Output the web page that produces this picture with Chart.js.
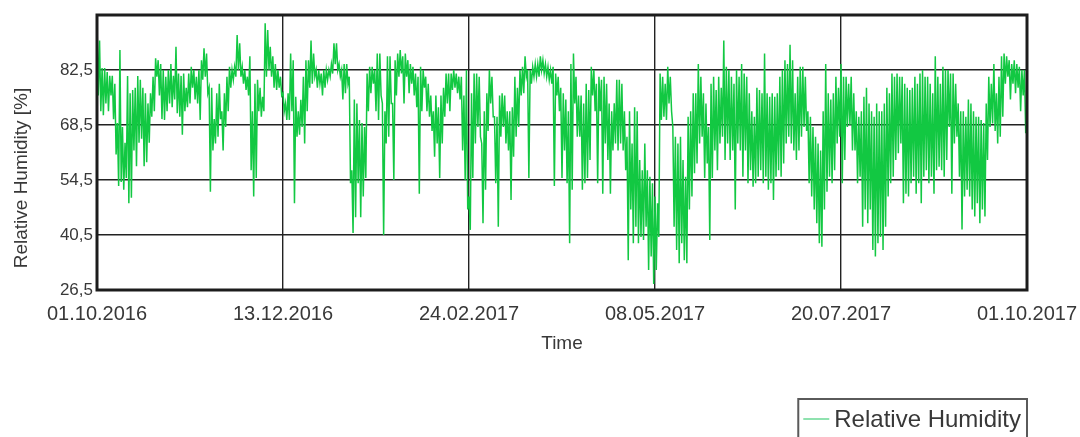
<!DOCTYPE html>
<html>
<head>
<meta charset="utf-8">
<title>Relative Humidity</title>
<script src="https://cdn.jsdelivr.net/npm/chart.js@4.4.1/dist/chart.umd.min.js"></script>
<style>
  html, body { margin: 0; padding: 0; background: #fff; }
  #wrap { position: relative; width: 1080px; height: 437px; overflow: hidden; }
</style>
</head>
<body>
<div id="wrap"><canvas id="humidityChart" width="1080" height="437"></canvas></div>
<script>
// x axis: days since 01.10.2016, labelled every 73 days
const tickDays = [0, 73, 146, 219, 292, 365];
const dateLabels = ['01.10.2016', '13.12.2016', '24.02.2017', '08.05.2017', '20.07.2017', '01.10.2017'];
const yTicks = [26.5, 40.5, 54.5, 68.5, 82.5, 96.5];

// daily maximum / minimum of relative humidity [%] (day 0 = 01.10.2016)
const dailyHigh = [
  95, 90, 83, 83, 82, 81, 81, 79, 69, 87.6,
  68, 64, 81, 76.6, 77.4, 78, 81, 80, 78, 76.6,
  74, 76.6, 80.8, 85.5, 85, 84, 82.5, 80.8, 82.5, 84,
  81, 88.4, 81.6, 81, 81.6, 78, 81.6, 83.3, 82.5, 80.8,
  82.5, 85, 88, 86.7, 78, 78, 70, 76.6, 79, 72,
  76.6, 80.8, 83.3, 82.5, 83.3, 91.4, 89.3, 83.3, 82.5, 80.8,
  86, 72, 79, 80, 78, 75.7, 94.4, 92.7, 88.4, 86,
  84, 82.5, 80.8, 76.6, 74, 76.6, 86.7, 85, 75.7, 72,
  74.9, 80.8, 85, 85, 90, 86.7, 82.5, 82.5, 81.6, 82.5,
  82.5, 82.5, 84, 89.3, 89.3, 84, 82.5, 84, 84, 80.8,
  57, 75, 74, 69.8, 69, 68, 81.6, 83.3, 83.3, 82.5,
  86.7, 86.7, 74, 72, 86, 86, 74, 85, 86.7, 87.6,
  86, 86.7, 85, 84, 83.3, 81.6, 80.8, 83.3, 82.5, 80.8,
  79, 76, 72, 76, 73, 76, 78, 81.6, 81.6, 81.6,
  82.5, 81.6, 80.8, 80.8, 76, 82.5, 50.3, 76.6, 81.6, 81.6,
  80.8, 63.8, 72, 76.6, 82.5, 80.8, 70.6, 70.6, 76, 76.6,
  76, 72, 72, 73, 80.8, 78, 82.5, 83.3, 86, 82.5,
  82.5, 83.3, 84, 84, 86, 85, 84, 83.3, 82.5, 83.3,
  81.6, 80.8, 78, 76.6, 75, 72, 84, 86.7, 80.8, 76,
  76, 74, 79, 77.4, 83.3, 82.5, 79, 80.8, 80, 80.8,
  79, 74, 72, 74, 80, 80, 79, 72, 65.5, 72,
  63.8, 73, 72, 59.6, 57, 63.8, 57, 55.3, 53.7, 50.3,
  48.6, 81.6, 80.8, 79, 83.3, 80.8, 68, 65.5, 63.8, 65.5,
  59.6, 55.3, 70.6, 72, 76.6, 76.6, 84, 80.8, 76.6, 74,
  68, 79, 80.8, 77.4, 80.8, 78, 90, 83.3, 82.5, 80.8,
  79, 82.5, 80.8, 84, 81.6, 80.8, 76.6, 72, 70.6, 78,
  77.4, 76.6, 86.7, 76.6, 75.7, 76.6, 75.7, 76.6, 80.8, 82.5,
  85, 84, 88.9, 85, 76.6, 80.8, 83.3, 83.3, 80.8, 72,
  70.6, 68, 65.5, 63.8, 62, 72, 84, 76.6, 75, 76.6,
  80.8, 78, 84, 80.8, 80.8, 79, 80.8, 76.6, 72, 70.6,
  72, 75.7, 78, 74, 72, 70.6, 74, 72, 72, 74,
  78, 76.6, 81.6, 80.8, 81.6, 80.8, 80.8, 79, 78, 77.4,
  78, 80.8, 79, 81.6, 82.5, 80.8, 80.8, 79, 76.6, 86,
  80.8, 79, 83.3, 82.5, 82.5, 81.6, 81.6, 79, 74, 72,
  72, 70.6, 75, 74, 72, 70.6, 70.6, 69.8, 69, 74,
  80.8, 79, 84, 76.6, 80.8, 86, 86.7, 86, 85, 84,
  85, 84, 83.3, 82.5, 82.5
];
const dailyLow = [
  76, 72, 71, 74, 72, 76, 70, 61, 53, 54,
  52, 55, 48.6, 50, 62, 58, 64, 65, 58, 59,
  64, 70.6, 72, 80.8, 76, 70, 69.8, 72, 74, 73,
  75, 71.5, 70.6, 66, 72, 73, 74, 78, 75, 74,
  69.8, 80, 80.8, 76.6, 51.5, 62, 63.8, 65.5, 70, 62,
  68, 72, 78, 80, 80.8, 82.5, 80.8, 79, 77.4, 76,
  57, 50.3, 55, 72, 70.6, 72, 80.8, 82.5, 80.8, 78,
  77.4, 78, 76, 72, 69.8, 69.8, 72, 48.6, 65.5, 66,
  68, 63.8, 72, 78, 79, 80.8, 78, 79, 76, 78,
  80, 80.8, 81.6, 84, 82.5, 80.8, 75, 76.6, 79, 53.7,
  41, 45, 53.7, 45, 50.3, 55, 72, 76.6, 79, 72,
  69.8, 76, 40.5, 63.8, 65.5, 74, 54.5, 76, 80.8, 81.6,
  74, 80.8, 76.6, 79, 76, 73, 51, 72, 78, 72,
  70.6, 67, 60.4, 63.8, 55, 63.8, 70.6, 74, 72, 77.4,
  78, 76.6, 75, 62, 54.5, 47, 41.8, 55, 63.8, 68,
  65.5, 43.5, 52, 67, 74, 70.6, 53.7, 42.6, 65.5, 68,
  63.8, 62, 49.4, 60.4, 65.5, 68, 76, 76.6, 80.8, 55,
  79, 80.8, 80.8, 80.8, 82.5, 81.6, 80.8, 80, 79, 53,
  76, 72, 55, 62, 53.7, 38.4, 52, 74, 65.5, 65.5,
  52, 53.7, 55, 59.6, 76, 72, 53.7, 72, 51, 63.8,
  59.6, 51, 62, 63.8, 62, 63.8, 62, 57, 34.1, 47,
  38.4, 42.6, 38.4, 40, 39.2, 42.6, 31.6, 35, 28, 31.6,
  40, 69.8, 70.6, 69.8, 74, 72, 42.6, 36.7, 33.3, 38.4,
  34.1, 33.3, 47, 50.3, 56.2, 58.7, 63.8, 65.5, 55, 58.7,
  39.2, 55, 62, 57, 63.8, 65.5, 59.6, 63.8, 59.6, 62,
  47, 63.8, 62, 55.3, 62, 53.7, 57, 52.8, 53.7, 55.3,
  57, 53.7, 55.3, 52, 53.7, 49.4, 55.3, 57, 55.3, 58.7,
  63.8, 65.5, 63.8, 62, 59.6, 62, 65.5, 68, 67, 53.7,
  50.3, 47, 43.5, 38.4, 37.5, 47, 51.5, 55.3, 53.7, 57,
  63.8, 65.5, 53.7, 59.6, 68, 68.5, 62, 62, 53.7, 55.3,
  42.6, 47, 43.5, 47, 36.7, 35, 38.4, 40, 36.7, 42.6,
  50.3, 53.7, 55.3, 59.6, 61.3, 63.8, 48.6, 51, 50.3, 53.7,
  55.3, 51, 53.7, 48.6, 55.3, 57, 53.7, 55.3, 51, 57,
  57.9, 57, 55.3, 59.6, 68, 51, 63.8, 65.5, 55.3, 41.9,
  50.3, 52, 50.3, 47, 45.2, 48.6, 43.5, 47, 45.2, 59.6,
  68, 68.9, 67, 63.8, 65.5, 70.6, 79, 80.8, 75, 79,
  76.6, 78, 72, 76, 66.4
];

const lineColor = '#12c842';
const textColor = '#383838';
const fontFamily = 'Arial, "Liberation Sans", sans-serif';

// every day gives its high and its low, so the trace swings like the hourly record
const points = [];
for (let i = 0; i < dailyHigh.length; i++) {
  points.push({ x: i, y: dailyHigh[i] });
  points.push({ x: i + 0.5, y: dailyLow[i] });
}

const frameAndLegend = {
  id: 'frameAndLegend',
  afterDraw(chart) {
    const ctx = chart.ctx;
    const a = chart.chartArea;
    ctx.save();
    // heavy plot frame
    ctx.strokeStyle = '#1c1c1c';
    ctx.lineWidth = 3;
    ctx.strokeRect(a.left, a.top, a.right - a.left, a.bottom - a.top);

    // y axis title, sits a little below the middle of the axis
    ctx.save();
    ctx.translate(22, 178);
    ctx.rotate(-Math.PI / 2);
    ctx.font = '19px ' + fontFamily;
    ctx.fillStyle = textColor;
    ctx.textAlign = 'center';
    ctx.textBaseline = 'middle';
    ctx.fillText('Relative Humidity [%]', 0, 0);
    ctx.restore();

    // boxed legend at the lower right
    const label = chart.data.datasets[0].label;
    ctx.font = '24px ' + fontFamily;
    const tw = ctx.measureText(label).width;
    const boxRight = a.right;
    const boxLeft = boxRight - tw - 42;
    const boxTop = 399;
    ctx.strokeStyle = '#5a5a5a';
    ctx.lineWidth = 2;
    ctx.strokeRect(boxLeft, boxTop, boxRight - boxLeft, 60);
    ctx.strokeStyle = '#6ad894';
    ctx.lineWidth = 1.5;
    ctx.beginPath();
    ctx.moveTo(boxLeft + 5, boxTop + 20);
    ctx.lineTo(boxLeft + 31, boxTop + 20);
    ctx.stroke();
    ctx.fillStyle = textColor;
    ctx.textBaseline = 'middle';
    ctx.textAlign = 'left';
    ctx.fillText(label, boxLeft + 36, boxTop + 21);
    ctx.restore();
  }
};

const config = {
  type: 'line',
  data: {
    datasets: [{
      label: 'Relative Humidity',
      data: points,
      borderColor: lineColor,
      borderWidth: 1.5,
      pointRadius: 0,
      tension: 0,
      fill: false
    }]
  },
  options: {
    responsive: false,
    animation: false,
    parsing: false,
    layout: { padding: { left: 4, right: 53, top: 15, bottom: 82 } },
    plugins: {
      legend: { display: false },
      tooltip: { enabled: false }
    },
    scales: {
      x: {
        type: 'linear',
        min: tickDays[0],
        max: tickDays[tickDays.length - 1],
        z: 1,
        afterBuildTicks: scale => { scale.ticks = tickDays.map(v => ({ value: v })); },
        afterFit: scale => {
          scale.height = 65;
          scale.paddingLeft = 0;
          scale.paddingRight = 0;
        },
        ticks: {
          autoSkip: false,
          maxRotation: 0,
          padding: 12,
          color: textColor,
          font: { family: fontFamily, size: 20 },
          callback: value => dateLabels[tickDays.indexOf(value)]
        },
        grid: { color: '#222', lineWidth: 1.4, drawTicks: false },
        border: { display: false },
        title: {
          display: true,
          text: 'Time',
          color: textColor,
          font: { family: fontFamily, size: 19 },
          padding: { top: 0, bottom: 0 }
        }
      },
      y: {
        min: yTicks[0],
        max: yTicks[yTicks.length - 1],
        z: 1,
        afterBuildTicks: scale => { scale.ticks = yTicks.map(v => ({ value: v })); },
        afterFit: scale => { scale.width = 93; },
        ticks: {
          padding: 4,
          color: textColor,
          font: { family: fontFamily, size: 17 },
          callback: value => value === yTicks[yTicks.length - 1] ? '' : value.toFixed(1).replace('.', ',')
        },
        grid: { color: '#222', lineWidth: 1.4, drawTicks: false },
        border: { display: false },
        title: { display: false }
      }
    }
  },
  plugins: [frameAndLegend]
};

const humidityChart = new Chart(document.getElementById('humidityChart'), config);
</script>
</body>
</html>
